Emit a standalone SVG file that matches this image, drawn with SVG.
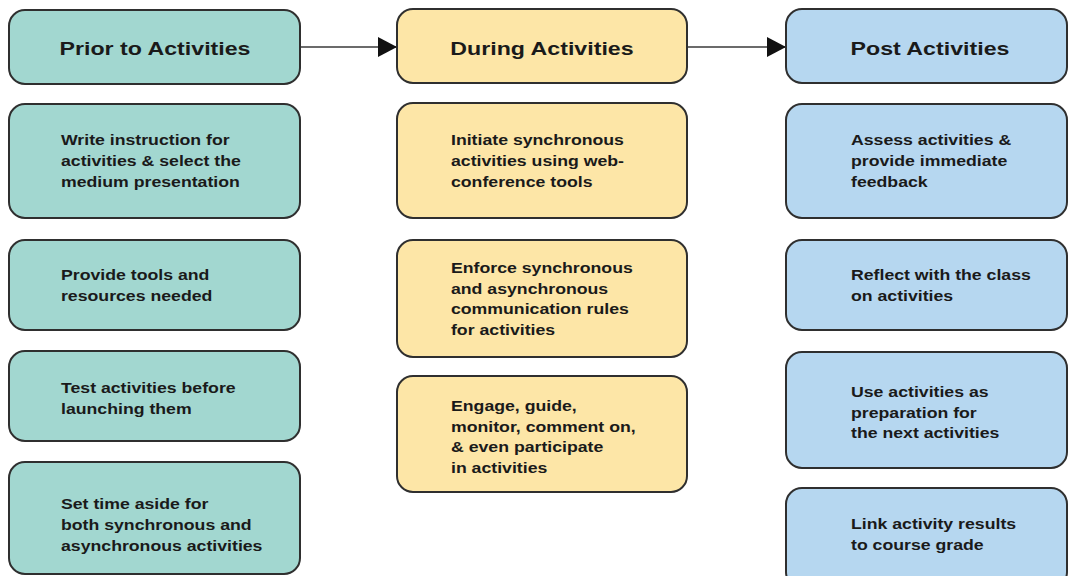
<svg xmlns="http://www.w3.org/2000/svg" width="1068" height="576" viewBox="0 0 1068 576">
  <style>
    .box { stroke: #2f2f2f; stroke-width: 2; }
    .prior { fill: #a2d7d0; }
    .during { fill: #fde6a7; }
    .post { fill: #b6d7f0; }
    text { font-family: "Liberation Sans", Arial, sans-serif; fill: #1a1a1a; transform-box: fill-box; }
    .head { font-size: 19px; font-weight: bold; text-anchor: middle; transform-origin: 50% 50%; transform: scaleX(1.22); }
    .body { font-size: 15px; font-weight: bold; transform-origin: 0 50%; transform: scaleX(1.18); }
    .link { stroke: #3a3a3a; stroke-width: 1.5; fill: none; }
  </style>
  <defs>
    <marker id="arrow" markerWidth="19" markerHeight="20" refX="19" refY="10" orient="auto" markerUnits="userSpaceOnUse">
      <path d="M0,0 L19,10 L0,20 Z" fill="#111"/>
    </marker>
  </defs>

  <rect width="1068" height="576" fill="#ffffff"/>

  <!-- connectors between phase headers -->
  <g id="connectors">
    <line class="link" x1="301" y1="47" x2="397" y2="47" marker-end="url(#arrow)"/>
    <line class="link" x1="688" y1="47" x2="786" y2="47" marker-end="url(#arrow)"/>
  </g>

  <!-- Prior column -->
  <g id="prior-header">
    <rect class="box prior" x="9" y="10" width="291" height="74" rx="16"/>
    <text class="head" x="155" y="55">Prior to Activities</text>
  </g>
  <g id="prior-1">
    <rect class="box prior" x="9" y="104" width="291" height="114" rx="16"/>
    <text class="body" y="145"><tspan x="61">Write instruction for</tspan><tspan x="61" dy="21">activities &amp; select the</tspan><tspan x="61" dy="21">medium presentation</tspan></text>
  </g>
  <g id="prior-2">
    <rect class="box prior" x="9" y="240" width="291" height="90" rx="16"/>
    <text class="body" y="280"><tspan x="61">Provide tools and</tspan><tspan x="61" dy="21">resources needed</tspan></text>
  </g>
  <g id="prior-3">
    <rect class="box prior" x="9" y="351" width="291" height="90" rx="16"/>
    <text class="body" y="393"><tspan x="61">Test activities before</tspan><tspan x="61" dy="21">launching them</tspan></text>
  </g>
  <g id="prior-4">
    <rect class="box prior" x="9" y="462" width="291" height="112" rx="16"/>
    <text class="body" y="509"><tspan x="61">Set time aside for</tspan><tspan x="61" dy="21">both synchronous and</tspan><tspan x="61" dy="21">asynchronous activities</tspan></text>
  </g>

  <!-- During column -->
  <g id="during-header">
    <rect class="box during" x="397" y="9" width="290" height="74" rx="16"/>
    <text class="head" x="542" y="55">During Activities</text>
  </g>
  <g id="during-1">
    <rect class="box during" x="397" y="103" width="290" height="115" rx="16"/>
    <text class="body" y="145"><tspan x="451">Initiate synchronous</tspan><tspan x="451" dy="21">activities using web-</tspan><tspan x="451" dy="21">conference tools</tspan></text>
  </g>
  <g id="during-2">
    <rect class="box during" x="397" y="240" width="290" height="117" rx="16"/>
    <text class="body" y="273"><tspan x="451">Enforce synchronous</tspan><tspan x="451" dy="20.7">and asynchronous</tspan><tspan x="451" dy="20.7">communication rules</tspan><tspan x="451" dy="20.7">for activities</tspan></text>
  </g>
  <g id="during-3">
    <rect class="box during" x="397" y="376" width="290" height="116" rx="16"/>
    <text class="body" y="411"><tspan x="451">Engage, guide,</tspan><tspan x="451" dy="20.7">monitor, comment on,</tspan><tspan x="451" dy="20.7">&amp; even participate</tspan><tspan x="451" dy="20.7">in activities</tspan></text>
  </g>

  <!-- Post column -->
  <g id="post-header">
    <rect class="box post" x="786" y="9" width="281" height="74" rx="16"/>
    <text class="head" x="930" y="55">Post Activities</text>
  </g>
  <g id="post-1">
    <rect class="box post" x="786" y="104" width="281" height="114" rx="16"/>
    <text class="body" y="145"><tspan x="851">Assess activities &amp;</tspan><tspan x="851" dy="21">provide immediate</tspan><tspan x="851" dy="21">feedback</tspan></text>
  </g>
  <g id="post-2">
    <rect class="box post" x="786" y="240" width="281" height="90" rx="16"/>
    <text class="body" y="280"><tspan x="851">Reflect with the class</tspan><tspan x="851" dy="21">on activities</tspan></text>
  </g>
  <g id="post-3">
    <rect class="box post" x="786" y="352" width="281" height="116" rx="16"/>
    <text class="body" y="397"><tspan x="851">Use activities as</tspan><tspan x="851" dy="20.7">preparation for</tspan><tspan x="851" dy="20.7">the next activities</tspan></text>
  </g>
  <g id="post-4">
    <rect class="box post" x="786" y="488" width="281" height="100" rx="16"/>
    <text class="body" y="529"><tspan x="851">Link activity results</tspan><tspan x="851" dy="21">to course grade</tspan></text>
  </g>
</svg>
